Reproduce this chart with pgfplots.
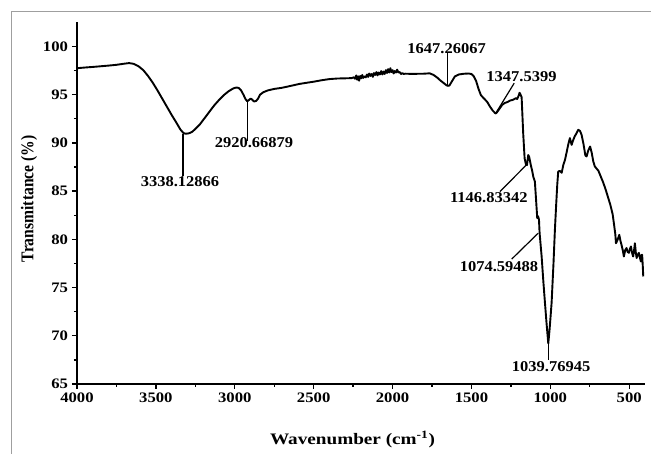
\documentclass[border=0pt]{standalone}
\usepackage{pgfplots}
\usepackage{pgfplotstable}
\pgfplotsset{compat=1.18}
\usepackage{fontspec}
\setmainfont{Liberation Serif}

% FTIR spectrum: wavenumber (cm^-1) vs transmittance (%)
% The wavenumber axis runs from high to low, so it is drawn on -wn.
\pgfplotstableread{
wn T
4000 97.75
3950 97.82
3900 97.88
3850 97.95
3800 98.02
3750 98.10
3700 98.22
3670 98.28
3640 98.20
3610 97.95
3580 97.55
3550 96.95
3520 96.25
3490 95.45
3460 94.60
3430 93.75
3400 92.90
3370 92.10
3345 91.40
3325 91.02
3310 90.95
3290 91.00
3270 91.15
3250 91.45
3220 91.95
3190 92.60
3160 93.25
3130 93.90
3100 94.45
3070 94.95
3040 95.35
3010 95.65
2990 95.75
2975 95.70
2960 95.45
2945 95.00
2932 94.55
2921 94.32
2910 94.45
2900 94.60
2890 94.50
2878 94.30
2865 94.35
2852 94.60
2840 95.00
2820 95.25
2790 95.45
2750 95.60
2700 95.72
2650 95.90
2590 96.12
2540 96.25
2500 96.35
2450 96.50
2400 96.62
2350 96.68
2300 96.70
2260 96.72
2245 96.80
2238 96.65
2230 97.00
2224 96.55
2218 96.90
2212 96.45
2205 96.95
2198 96.70
2192 97.05
2185 96.75
2178 96.90
2170 96.80
2162 97.10
2155 96.85
2148 97.20
2140 96.95
2132 97.15
2125 96.85
2118 97.25
2110 97.05
2102 97.35
2095 97.00
2088 97.30
2080 97.10
2072 97.45
2065 97.10
2058 97.40
2050 97.15
2042 97.55
2035 97.25
2028 97.65
2020 97.30
2014 97.75
2007 97.35
2000 97.55
1993 97.20
1986 97.45
1978 97.30
1971 97.60
1963 97.30
1955 97.35
1946 97.15
1938 97.25
1930 97.15
1920 97.18
1880 97.16
1840 97.17
1800 97.18
1765 97.22
1740 97.05
1715 96.75
1695 96.45
1675 96.20
1660 96.00
1650 95.92
1640 95.95
1625 96.35
1605 96.90
1580 97.10
1550 97.17
1520 97.20
1500 97.15
1485 96.90
1470 96.40
1455 95.60
1440 94.95
1420 94.60
1400 94.25
1383 93.78
1365 93.35
1350 93.10
1345 93.05
1335 93.25
1320 93.60
1305 93.95
1288 94.15
1270 94.25
1255 94.40
1240 94.45
1228 94.55
1218 94.65
1210 94.55
1202 94.85
1195 95.20
1190 95.05
1182 94.75
1172 91.00
1163 88.40
1155 87.80
1148 87.70
1140 88.75
1134 88.55
1125 87.80
1115 87.10
1108 86.50
1098 86.00
1090 84.00
1083 82.20
1078 82.40
1072 82.05
1068 80.65
1055 78.20
1045 75.80
1034 73.40
1024 71.30
1013 69.20
1005 70.60
992 73.40
980 77.50
971 81.00
963 83.60
956 85.70
950 87.04
940 87.10
928 86.90
918 87.70
907 88.25
897 89.00
887 89.80
876 90.50
865 89.80
855 90.30
845 90.70
834 91.00
823 91.36
812 91.25
802 90.85
790 89.90
778 88.70
770 88.60
760 89.20
748 89.63
738 89.00
728 88.10
718 87.56
705 87.30
695 87.10
680 86.50
665 85.90
650 85.20
635 84.40
620 83.60
605 82.60
595 81.40
588 80.50
584 79.60
575 79.90
563 80.47
555 79.80
549 79.44
540 78.80
534 78.22
525 78.90
517 79.10
510 78.70
502 78.60
496 79.00
489 79.26
482 78.60
475 78.22
469 78.90
464 79.60
458 78.60
453 78.06
446 78.40
439 78.60
432 78.10
426 77.70
421 78.40
418 78.40
414 77.20
411 76.15
}\spectrum

\begin{document}
\begin{tikzpicture}[x=1pt,y=1pt]
\begin{axis}[
  at={(0,0)}, anchor=south west,
  scale only axis, width=568pt, height=361.6pt,
  xmin=-4000, xmax=-400, ymin=65, ymax=102.5,
  axis x line*=bottom, axis y line*=left,
  axis line style={line width=1.3pt},
  xtick={-4000,-3500,...,-500}, ytick={65,70,...,100},
  xticklabels={4000,3500,3000,2500,2000,1500,1000,500},
  minor x tick num=1, minor y tick num=1,
  tick align=outside,
  major tick length=5pt, minor tick length=3pt,
  every tick/.style={black, line width=1.3pt},
  /pgf/number format/assume math mode=true,
  /pgf/number format/1000 sep={},
  tick label style={font=\bfseries\fontsize{14.5}{16}\selectfont, xscale=1.15},
  xlabel={Wavenumber (cm\textsuperscript{-1})},
  ylabel={Transmittance (\%)},
  xlabel style={font=\bfseries\fontsize{16}{18}\selectfont, xscale=1.2,
    at={(axis description cs:0.485,-0.154)}, anchor=center},
  ylabel style={font=\bfseries\fontsize{15.6}{18}\selectfont, yscale=1.15,
    at={(axis description cs:-0.0845,0.512)}, anchor=center},
  clip=false,
]
\addplot[black, line width=1.9pt, line join=round] table[x expr=-\thisrow{wn}, y=T] {\spectrum};

% peak annotations
\begin{scope}[line width=1.2pt]
\draw (axis cs:-3328,90.95) -- (axis cs:-3328,86.6);
\draw (axis cs:-2921,94.32) -- (axis cs:-2921,90.25);
\draw (axis cs:-1650,95.92) -- (axis cs:-1650,99.45);
\draw (axis cs:-1347,93.05) -- (axis cs:-1229,96.2);
\draw (axis cs:-1150,87.75) -- (axis cs:-1319,84.96);
\draw (axis cs:-1077,80.64) -- (axis cs:-1245,77.95);
\draw (axis cs:-1013,69.2) -- (axis cs:-1013,67.5);
\end{scope}
\begin{scope}[every node/.style={font=\bfseries\fontsize{15}{17}\selectfont, xscale=1.1, inner sep=0pt}]
\node[anchor=north] at (axis cs:-3347,86.55) {3338.12866};
\node[anchor=north] at (axis cs:-2878,90.55) {2920.66879};
\node[anchor=south] at (axis cs:-1657,99.28) {1647.26067};
\node at (axis cs:-1183,96.83) {1347.5399};
\node at (axis cs:-1390,84.38) {1146.83342};
\node at (axis cs:-1325,77.18) {1074.59488};
\node at (axis cs:-995,66.8) {1039.76945};
\end{scope}
\end{axis}
% frame around the figure; the axis box starts 77 from the left and 70 from the bottom
\draw[gray!75, line width=0.9pt] (-66,-70) -- (-66,373) -- (574,373);
\pgfresetboundingbox
\path[use as bounding box] (-77,-70) rectangle (574,384);
\end{tikzpicture}
\end{document}
